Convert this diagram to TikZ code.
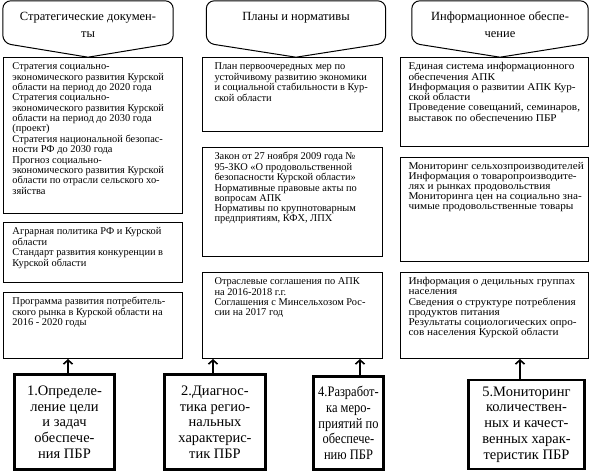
\documentclass[tikz,border=0pt]{standalone}
\usepackage{fontspec}
\setmainfont{Liberation Serif}
\usetikzlibrary{arrows.meta}
\tikzstyle{docbox} = [draw, line width=1pt, anchor=north west, inner xsep=0pt, inner ysep=5pt, font=\fontsize{10.4}{10.3}\selectfont]
\tikzstyle{docwide} = [docbox, font=\fontsize{10.4}{10}\selectfont\addfontfeature{FakeStretch=1.08}]
\tikzstyle{stagebox} = [draw, line width=2.6pt, align=center, inner sep=0pt, font=\fontsize{14.5}{15.8}\selectfont]
\tikzstyle{headbox} = [inner sep=0pt, minimum height=42pt, font=\fontsize{12.5}{17}\selectfont]
\tikzstyle{callout} = [draw, line width=1pt, rounded corners=8pt]
\tikzstyle{uparrow} = [line width=1.6pt, -{Straight Barb[length=4pt,width=9pt]}]
% #1 box width, #2 text height, #3 left indent, #4 lines
\newcommand{\doctext}[4]{\parbox[t][#2][t]{#1}{\hspace*{#3}\begin{tabular}[t]{@{}l@{}}#4\end{tabular}}}
\newcommand{\headtext}[2]{\parbox[c][20pt][t]{#1}{\centering #2}}

\begin{document}
\begin{tikzpicture}[x=1pt,y=-1pt]
\useasboundingbox (0,0) rectangle (591,474);

% headers
\node[headbox, minimum width=170pt] (h1) at (88,22) {\headtext{164pt}{Стратегические докумен-\\ты}};
\node[headbox, minimum width=179pt] (h2) at (296,22) {\headtext{170pt}{Планы и нормативы}};
\node[headbox, minimum width=176pt] (h3) at (500,22) {\headtext{170pt}{Информационное обеспе-\\чение}};
\foreach \h in {h1,h2,h3}{
  \coordinate (\h tip) at ([yshift=-14pt]\h.south);
  \draw[callout] (\h tip) -- (\h.south west) -- (\h.north west) -- (\h.north east) -- (\h.south east) -- (\h tip);
}

% column 1
\node[docbox] (c1a) at (3,57) {\doctext{179pt}{146pt}{9pt}{Стратегия социально-\\экономического развития Курской\\области на период до 2020 года\\Стратегия социально-\\экономического развития Курской\\области на период до 2030 года\\(проект)\\Стратегия национальной безопас-\\ности РФ до 2030 года\\Прогноз социально-\\экономического развития Курской\\области по отрасли сельского хо-\\зяйства}};
\node[docbox] (c1b) at (3,222) {\doctext{179pt}{50pt}{9pt}{Аграрная политика РФ и Курской\\области\\Стандарт развития конкуренции в\\Курской области}};
\node[docbox] (c1c) at (3,292) {\doctext{179pt}{56pt}{9pt}{Программа развития потребитель-\\ского рынка в Курской области на\\2016 - 2020 годы}};

% column 2
\node[docbox] (c2a) at (202,57) {\doctext{180pt}{64pt}{12pt}{План первоочередных мер по\\устойчивому развитию экономики\\и социальной стабильности в Кур-\\ской области}};
\node[docbox] (c2b) at (202,147) {\doctext{180pt}{99pt}{12pt}{Закон от 27 ноября 2009 года №\\95-ЗКО «О продовольственной\\безопасности Курской области»\\Нормативные правовые акты по\\вопросам АПК\\Нормативы по крупнотоварным\\предприятиям, КФХ, ЛПХ}};
\node[docbox] (c2c) at (202,272) {\doctext{180pt}{76pt}{12pt}{Отраслевые соглашения по АПК\\на 2016-2018 г.г.\\Соглашения с Минсельхозом Рос-\\сии на 2017 год}};

% column 3
\node[docwide] (c3a) at (400,57) {\doctext{188pt}{79pt}{8pt}{Единая система информационного\\обеспечения АПК\\Информация о развитии АПК Кур-\\ской области\\Проведение совещаний, семинаров,\\выставок по обеспечению ПБР}};
\node[docwide] (c3b) at (400,157) {\doctext{188pt}{94pt}{8pt}{Мониторинг сельхозпроизводителей\\Информация о товаропроизводите-\\лях и рынках продовольствия\\Мониторинга цен на социально зна-\\чимые продовольственные товары}};
\node[docwide] (c3c) at (400,272) {\doctext{188pt}{76pt}{8pt}{Информация о децильных группах\\населения\\Сведения о структуре потребления\\продуктов питания\\Результаты социологических опро-\\сов населения Курской области}};

% stages
\node[stagebox, minimum width=100pt, minimum height=95pt] (s1) at (64.5,422) {1.Определе-\\ление цели\\и задач\\обеспече-\\ния ПБР};
\node[stagebox, minimum width=101pt, minimum height=95pt] (s2) at (215,422) {2.Диагнос-\\тика регио-\\нальных\\характерис-\\тик ПБР};
\node[stagebox, minimum width=70pt, minimum height=93pt, font=\fontsize{14.5}{15.8}\selectfont\addfontfeature{FakeStretch=0.86}] (s4) at (348.5,423) {4.Разработ-\\ка меро-\\приятий по\\обеспече-\\нию ПБР};
\node[stagebox, minimum width=116pt, minimum height=89pt] (s5) at (526.5,424.5) {5.Мониторинг\\количествен-\\ных и качест-\\венных харак-\\теристик ПБР};

\draw[uparrow] ([xshift=3.5pt]s1.north) -- ([xshift=3.5pt]s1.north |- c1c.south);
\draw[uparrow] ([xshift=-2pt]s2.north) -- ([xshift=-2pt]s2.north |- c2c.south);
\draw[uparrow] ([xshift=11.5pt]s4.north) -- ([xshift=11.5pt]s4.north |- c2c.south);
\draw[uparrow] ([xshift=-6.5pt]s5.north) -- ([xshift=-6.5pt]s5.north |- c3c.south);
\end{tikzpicture}
\end{document}
